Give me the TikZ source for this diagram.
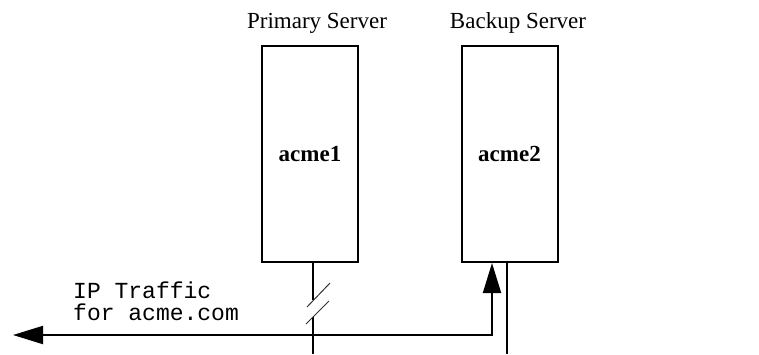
\documentclass[tikz,border=0pt]{standalone}
\usepackage{fontspec}
\setmainfont{Liberation Serif}
\newfontfamily\monofont{Liberation Mono}
\usetikzlibrary{arrows.meta}
\begin{document}
\begin{tikzpicture}[x=1pt,y=-1pt,
  server/.style={draw, line width=2pt, minimum width=96pt, minimum height=216pt,
    inner sep=0pt, font=\fontsize{23}{27}\selectfont\bfseries},
  caption/.style={anchor=base, inner sep=0pt, font=\fontsize{23}{27}\selectfont},
  monolabel/.style={anchor=base west, inner sep=0pt, font=\fontsize{23}{22}\monofont},
  wire/.style={line width=2pt},
  breakmark/.style={line width=1pt, black!80},
  bigtip/.tip={Triangle[length=30pt,width=18pt]}]
\useasboundingbox (0,0) rectangle (759,354);

% servers
\node[server] (acme1) at (310,154) {acme1};
\node[server] (acme2) at (509.5,154) {acme2};
\node[caption] (cap1) at (317,28) {Primary Server};
\node[caption] (cap2) at (518,28) {Backup Server};

% primary server link with break marks
\coordinate (p1top) at (313,262);
\coordinate (p1brkA) at (313,300);
\coordinate (p1brkB) at (313,317);
\coordinate (p1end) at (313,354);
\draw[wire] (p1top) -- (p1brkA);
\draw[wire] (p1brkB) -- (p1end);
\coordinate (s1a) at (307,307);
\coordinate (s1b) at (330,283);
\coordinate (s2a) at (306,324);
\coordinate (s2b) at (329,301);
\draw[breakmark] (s1a) -- (s1b);
\draw[breakmark] (s2a) -- (s2b);

% backup server link
\coordinate (p2top) at (507,262);
\coordinate (p2end) at (507,354);
\draw[wire] (p2top) -- (p2end);

% IP traffic path
\coordinate (tipL) at (13,335);
\coordinate (corner) at (492,335);
\coordinate (tipU) at (492,263);
\draw[wire, bigtip-bigtip] (tipL) -- (corner) -- (tipU);

\node[monolabel] (ip1) at (73,298) {IP Traffic};
\node[monolabel] (ip2) at (73,320) {for acme.com};
\end{tikzpicture}
\end{document}
